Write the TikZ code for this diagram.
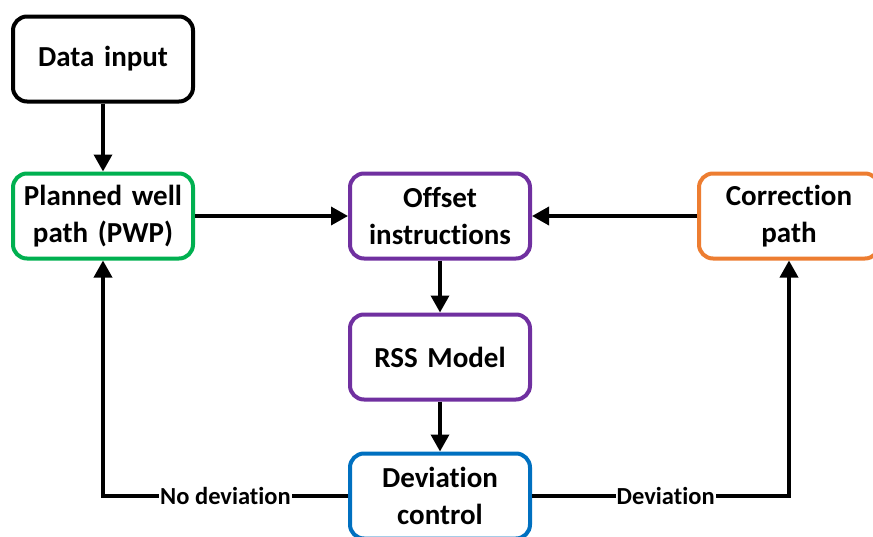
\documentclass[tikz,border=0pt]{standalone}
\usepackage{fontspec}
\setmainfont{Carlito}[Ligatures={NoCommon,NoContextual}]
\usetikzlibrary{arrows.meta}
\definecolor{cgreen}{HTML}{00B050}
\definecolor{cpurple}{HTML}{7030A0}
\definecolor{corange}{HTML}{ED7D31}
\definecolor{cblue}{HTML}{0070C0}
\tikzset{
  block/.style={draw, line width=4pt, rounded corners=14pt, fill=white,
    minimum width=180pt, minimum height=85pt, align=center, text width=176pt,
    font=\fontsize{29}{37}\selectfont\bfseries, inner sep=0pt},
  flow/.style={line width=3.5pt, -{Triangle[length=17pt,width=18pt]}},
  tag/.style={fill=white, inner sep=1pt, font=\fontsize{24.5}{28}\selectfont\bfseries}
}
\begin{document}
\begin{tikzpicture}[x=1pt,y=-1pt]
  \useasboundingbox (0,0) rectangle (873,536);
  % boxes
  \node[block, draw=black]   (data) at (103,59)  {Data input};
  \node[block, draw=cgreen]  (pwp)  at (103,216) {Planned well\\path (PWP)};
  \node[block, draw=cpurple] (off)  at (440,216) {Offset\\instructions};
  \node[block, draw=corange] (corr) at (789,216) {Correction\\path};
  \node[block, draw=cpurple] (rss)  at (440,357) {RSS Model};
  \node[block, draw=cblue]   (dev)  at (440,496) {Deviation\\control};
  % connectors
  \draw[flow] (data) -- (pwp);
  \draw[flow] (pwp) -- (off);
  \draw[flow] (corr) -- (off);
  \draw[flow] (off) -- (rss);
  \draw[flow] (rss) -- (dev);
  \draw[flow] (dev.west) -| node[tag, pos=0.25] {No deviation} (pwp.south);
  \draw[flow] (dev.east) -| node[tag, pos=0.26] {Deviation} (corr.south);
\end{tikzpicture}
\end{document}
